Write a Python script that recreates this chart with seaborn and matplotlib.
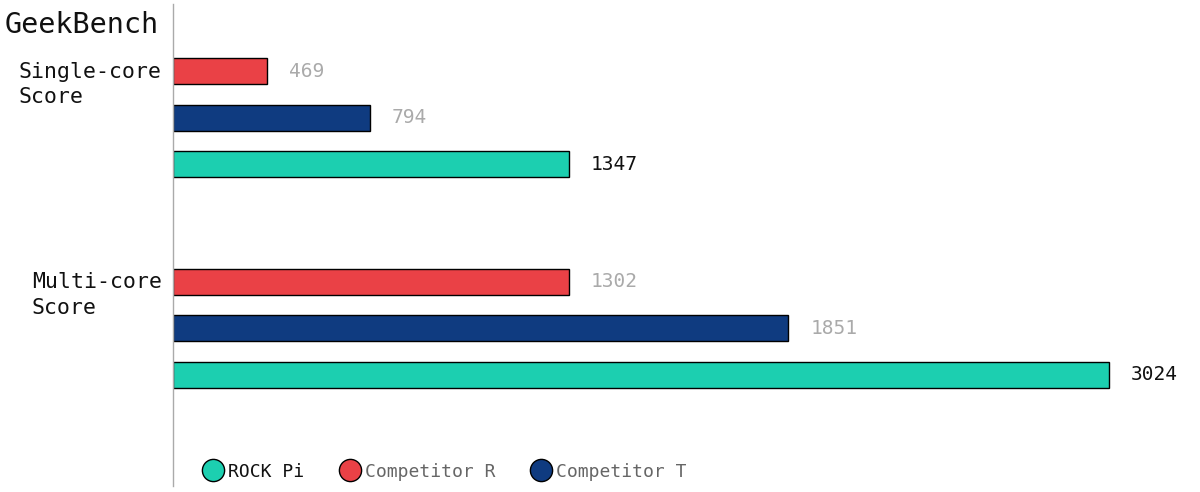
import matplotlib
matplotlib.use("Agg")
import matplotlib.pyplot as plt
from matplotlib.lines import Line2D
import seaborn as sns
import pandas as pd

# ── Data ────────────────────────────────────────────────
tests = ["Single-core\nScore", "Multi-core\nScore"]
devices = ["Competitor R", "Competitor T", "ROCK Pi"]
# printed scores
scores_single = [469, 794, 1347]
scores_multi = [1302, 1851, 3024]
# bar lengths as drawn in the picture (same units as the scores)
length_single = [304, 636, 1279]
length_multi = [1279, 1987, 3024]

colors = {"ROCK Pi": "#1ccfb0", "Competitor R": "#ea4146", "Competitor T": "#0f3b80"}
label_colors = {"ROCK Pi": "#111111", "Competitor R": "#aaaaaa", "Competitor T": "#aaaaaa"}

df = pd.DataFrame({
    "test": [tests[0]] * 3 + [tests[1]] * 3,
    "device": devices * 2,
    "length": length_single + length_multi,
    "score": scores_single + scores_multi,
})

# ── Style ────────────────────────────────────────────────
sns.set_theme(style="white")
plt.rcParams["font.family"] = ["DejaVu Sans Mono", "DejaVu Sans"]

fig = plt.figure(figsize=(12, 4.92), dpi=100)
ax = fig.add_axes([173 / 1200, 6 / 492, 1 - 173 / 1200, 482 / 492])

sns.barplot(
    data=df, y="test", x="length", hue="device", hue_order=devices,
    palette=colors, saturation=1, orient="h", width=0.664, gap=0.44,
    edgecolor="black", linewidth=1, legend=False, ax=ax,
)

# value labels
for cont, dev in zip(ax.containers, devices):
    vals = df[df["device"] == dev]["score"].tolist()
    ax.bar_label(cont, labels=[str(v) for v in vals], padding=16,
                 fontsize=14, color=label_colors[dev])

ax.set_xlim(0, 3318)
ax.set_ylim(1.75, -0.54)
ax.set_xticks([])
ax.set_yticks([])
ax.set_xlabel("")
ax.set_ylabel("")
for s in ["top", "right", "bottom"]:
    ax.spines[s].set_visible(False)
ax.spines["left"].set_color("#aaaaaa")
ax.spines["left"].set_linewidth(1)

# category labels
for i, t in enumerate(tests):
    ax.text(-0.011, i - 0.157, t, transform=ax.get_yaxis_transform(),
            ha="right", va="center", multialignment="left",
            fontsize=15.5, color="#111111", linespacing=1.35)

fig.text(5 / 1200, 1 - 25 / 492, "GeekBench", fontsize=20.5,
         ha="left", va="center", color="#111111")

# legend
handles = [Line2D([], [], marker="o", linestyle="", markersize=16,
                  markerfacecolor=colors[d], markeredgecolor="black",
                  markeredgewidth=1) for d in ["ROCK Pi", "Competitor R", "Competitor T"]]
leg = fig.legend(handles, ["ROCK Pi", "Competitor R", "Competitor T"],
                 loc="lower left", bbox_to_anchor=(195 / 1200, 4 / 492),
                 ncol=3, frameon=False, fontsize=13, handlelength=1.2,
                 handletextpad=0.25, columnspacing=1.9, borderaxespad=0)
for txt, d in zip(leg.get_texts(), ["ROCK Pi", "Competitor R", "Competitor T"]):
    txt.set_color("#111111" if d == "ROCK Pi" else "#666666")

plt.savefig("out.png", dpi=100)
plt.close()
